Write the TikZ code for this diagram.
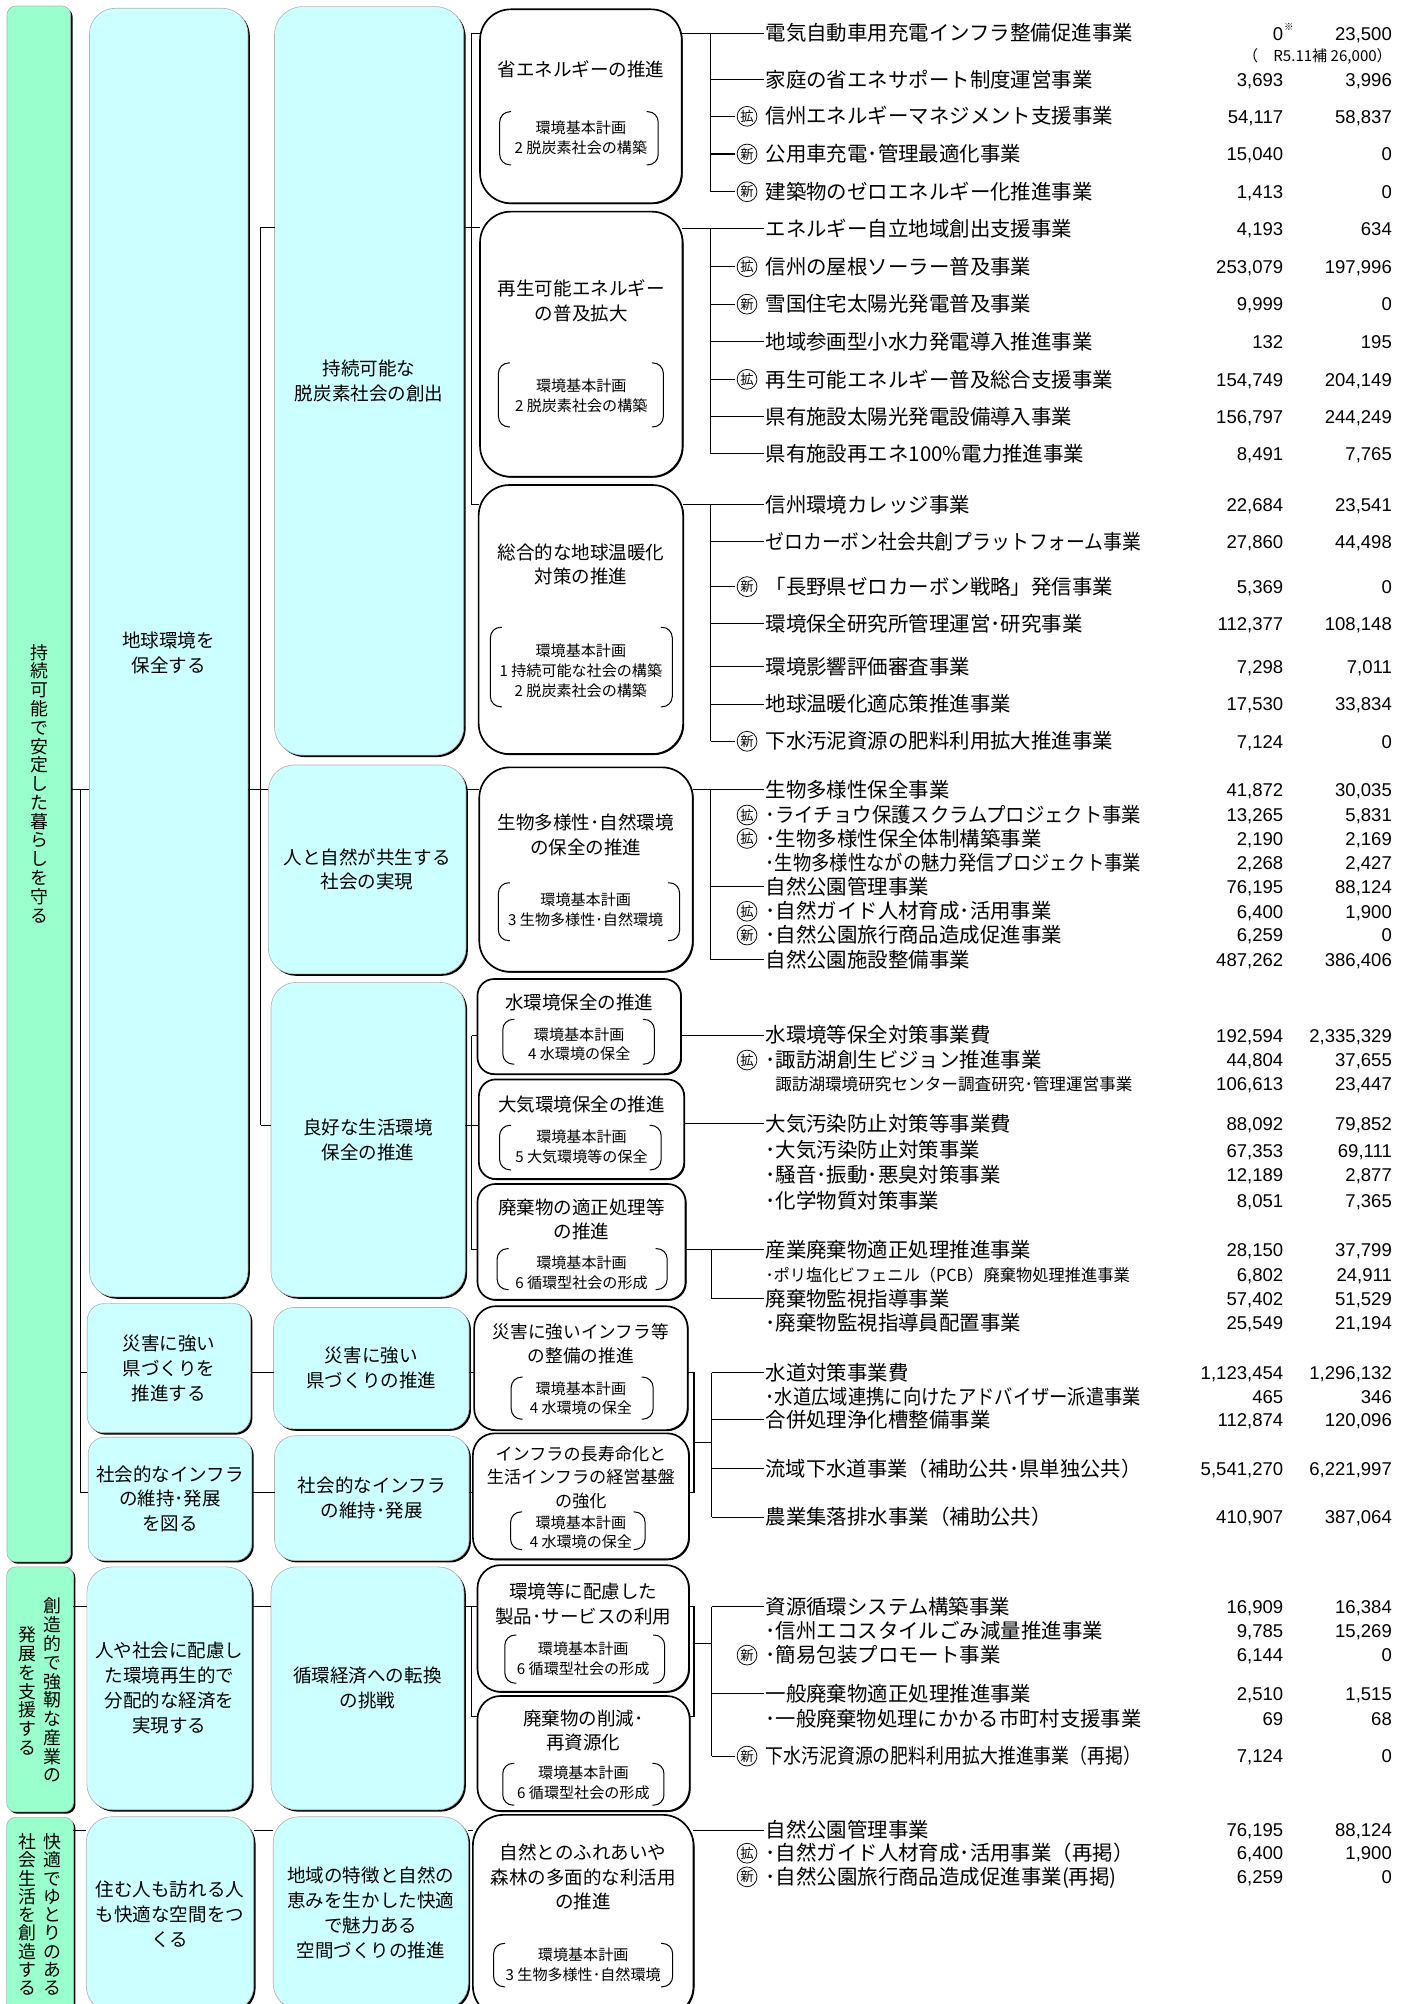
\documentclass[tikz,border=0pt]{standalone}
\usepackage{fontspec}
\usepackage{graphicx}
\setmainfont{Noto Sans CJK JP}
\newfontfamily\numfont{Liberation Sans}
\usetikzlibrary{shadows}
\definecolor{cyanf}{HTML}{CCFFFF}
\definecolor{greenf}{HTML}{99FFCC}
\newsavebox\fitbox
\newcommand\fitw[2]{\sbox\fitbox{#2}\ifdim\wd\fitbox>#1pt\relax\resizebox{#1pt}{\height}{#2}\else\usebox\fitbox\fi}
\newcommand\bx[8]{\node[#2, rounded corners=#7, minimum width={(#5)-(#3)}, minimum height={(#6)-(#4)}, anchor=north west] (#1) at (#3,#4) {#8};}
\newcommand\itm[5]{%
 \node[itemtxt,anchor=base west] (#1) at (599,#2+6) {\fitw{294}{#3}};
 \node[numtxt,anchor=base east] (#1n) at (1004,#2+5.3) {#4};
 \node[numtxt,anchor=base east] (#1m) at (1089,#2+5.3) {#5};}
\newcommand\itms[6]{%
 \node[itemsm,anchor=base west] (#1) at (#3,#2+5) {\fitw{285}{#4}};
 \node[numtxt,anchor=base east] (#1n) at (1004,#2+5.3) {#5};
 \node[numtxt,anchor=base east] (#1m) at (1089,#2+5.3) {#6};}
\newcommand\tg[3]{\node[tagc] (#1) at (584.5,#2) {#3};}
\newcommand\lnk[4]{\coordinate (#1) at (#2,#3); \draw[conni] (#1) -- (#1 -| #4.west);}
\newcommand\brk[4]{%
 \draw[brkst] (#1+9,#2) -- (#1,#2) -- (#1,#4) -- (#1+9,#4);
 \draw[brkst] (#3-9,#2) -- (#3,#2) -- (#3,#4) -- (#3-9,#4);}
\begin{document}
\begin{tikzpicture}[x=1pt,y=-1pt,
 every node/.style={inner sep=0pt, outer sep=0pt},
 itemtxt/.style={font=\fontsize{16}{19}\selectfont},
 itemsm/.style={font=\fontsize{13}{15}\selectfont},
 numtxt/.style={font=\numfont\fontsize{14.5}{17}\selectfont},
 tagc/.style={circle, draw, line width=0.6pt, minimum size=15.5pt, font=\fontsize{10.5}{10.5}\selectfont},
 cbox/.style={draw=gray!60, line width=0.5pt, fill=cyanf, drop shadow={shadow xshift=1.5pt, shadow yshift=-1.5pt, opacity=1, fill=black}, align=center, font=\fontsize{14.5}{19.5}\selectfont},
 gbox/.style={draw=gray!60, line width=0.5pt, fill=greenf, drop shadow={shadow xshift=1.5pt, shadow yshift=-1.5pt, opacity=1, fill=black}},
 wbox/.style={draw=black, line width=1.3pt, fill=white, drop shadow={shadow xshift=0.8pt, shadow yshift=-0.8pt, opacity=1, fill=black}},
 wl/.style={align=center, font=\fontsize{14.5}{19}\selectfont},
 wls/.style={align=center, font=\fontsize{11.8}{15.5}\selectfont},
 vt/.style={align=center, font=\fontsize{14}{14.7}\selectfont},
 conn/.style={line width=0.8pt},
 conni/.style={line width=0.8pt, shorten >=1.5pt},
 brkst/.style={line width=0.8pt, rounded corners=8pt}]
\useasboundingbox (0,0) rectangle (1104,1568);
\clip (0,0) rectangle (1104,1568);

% ---------- green column ----------
\bx{gA}{gbox}{5.5}{4.7}{55.3}{1222}{7}{}
\bx{gB}{gbox}{5.2}{1226}{57.5}{1417.6}{7}{}
\bx{gC}{gbox}{5.2}{1422}{57.5}{1576}{7}{}
\node[vt] (vA) at (30.5,613) {持\\続\\可\\能\\で\\安\\定\\し\\た\\暮\\ら\\し\\を\\守\\る};
\node[vt] (vB1) at (41,1322.5) {創\\造\\的\\で\\強\\靭\\な\\産\\業\\の};
\node[vt] (vB2) at (21.5,1323) {発\\展\\を\\支\\援\\す\\る};
\node[vt, font=\fontsize{14}{14.3}\selectfont] (vC1) at (41,1498) {快\\適\\で\\ゆ\\と\\り\\の\\あ\\る};
\node[vt, font=\fontsize{14}{14.3}\selectfont] (vC2) at (21.5,1498) {社\\会\\生\\活\\を\\創\\造\\す\\る};

% ---------- cyan column 2 ----------
\bx{c2a}{cbox}{70}{6.5}{194}{1014.7}{20}{地球環境を\\保全する}
\bx{c2b}{cbox}{68.3}{1020}{196}{1121}{13}{災害に強い\\県づくりを\\推進する}
\bx{c2c}{cbox}{69}{1124.5}{197}{1221}{13}{社会的なインフラ\\の維持･発展\\を図る}
\bx{c2d}{cbox}{68}{1226}{197}{1416}{20}{人や社会に配慮し\\た環境再生的で\\分配的な経済を\\実現する}
\bx{c2e}{cbox}{67.5}{1421.5}{198.5}{1574}{20}{住む人も訪れる人\\も快適な空間をつ\\くる}

% ---------- cyan column 3 ----------
\bx{c3a}{cbox}{214.8}{5.2}{362.8}{590.8}{22}{持続可能な\\脱炭素社会の創出}
\bx{c3b}{cbox}{210}{598.6}{364.6}{762}{20}{人と自然が共生する\\社会の実現}
\bx{c3c}{cbox}{212}{768.6}{364}{1014.7}{20}{良好な生活環境\\保全の推進}
\bx{c3d}{cbox}{214}{1023}{367}{1118}{16}{災害に強い\\県づくりの推進}
\bx{c3e}{cbox}{214.8}{1123.4}{367}{1221}{16}{社会的なインフラ\\の維持･発展}
\bx{c3f}{cbox}{212}{1226}{363}{1416}{20}{循環経済への転換\\の挑戦}
\bx{c3g}{cbox}{213.8}{1421.5}{366.4}{1572}{20}{地域の特徴と自然の\\恵みを生かした快適\\で魅力ある\\空間づくりの推進}

% ---------- white column 4 ----------
\bx{w1}{wbox}{375.6}{7.3}{533.4}{159}{24}{}
\bx{w2}{wbox}{375.6}{165.6}{534}{373}{24}{}
\bx{w3}{wbox}{374.5}{379.5}{534.5}{590}{24}{}
\bx{w4}{wbox}{375}{600.4}{542}{760.3}{24}{}
\bx{w5}{wbox}{373.6}{766}{532.8}{840.4}{13}{}
\bx{w6}{wbox}{374.7}{844.6}{535.3}{922.5}{13}{}
\bx{w7}{wbox}{373.6}{926.4}{536.4}{1017}{14}{}
\bx{w8}{wbox}{371}{1022}{538}{1119}{17}{}
\bx{w9}{wbox}{370}{1121.5}{539}{1220}{17}{}
\bx{w10}{wbox}{373.6}{1224.6}{539}{1323.7}{18}{}
\bx{w11}{wbox}{373.6}{1327}{539.6}{1417}{18}{}
\bx{w12}{wbox}{370}{1420}{542.6}{1578}{24}{}

\node[wl] (w1t) at (454.5,54) {省エネルギーの推進};
\node[wls] (w1s) at (454.5,108) {環境基本計画\\2 脱炭素社会の構築};
\brk{391}{87.4}{515}{129}
\node[wl] (w2t) at (454.8,235.5) {再生可能エネルギー\\の普及拡大};
\node[wls] (w2s) at (454.8,309.5) {環境基本計画\\2 脱炭素社会の構築};
\brk{390}{284}{519}{334}
\node[wl] (w3t) at (454.5,441.4) {総合的な地球温暖化\\対策の推進};
\node[wls] (w3s) at (454.5,524.7) {環境基本計画\\1 持続可能な社会の構築\\2 脱炭素社会の構築};
\brk{383.7}{490.8}{526}{553}
\node[wl] (w4t) at (458.3,653.3) {生物多様性･自然環境\\の保全の推進};
\node[wls] (w4s) at (458.3,711.8) {環境基本計画\\3 生物多様性･自然環境};
\brk{390}{690.7}{531.7}{736}
\node[wl] (w5t) at (453.2,784.7) {水環境保全の推進};
\node[wls] (w5s) at (453.2,817) {環境基本計画\\4 水環境の保全};
\brk{393.4}{797.6}{512}{832.6}
\node[wl] (w6t) at (455,864.4) {大気環境保全の推進};
\node[wls] (w6s) at (455,897.6) {環境基本計画\\5 大気環境等の保全};
\brk{390.9}{880.5}{517.3}{915.3}
\node[wl] (w7t) at (455,954) {廃棄物の適正処理等\\の推進};
\node[wls] (w7s) at (455,995.7) {環境基本計画\\6 循環型社会の形成};
\brk{389}{977}{522}{1009}
\node[wl, font=\fontsize{13.8}{18.7}\selectfont] (w8t) at (454.5,1051.7) {災害に強いインフラ等\\の整備の推進};
\node[wls] (w8s) at (454.5,1094) {環境基本計画\\4 水環境の保全};
\brk{400}{1077.5}{511}{1110.4}
\node[wl, font=\fontsize{13.4}{18.4}\selectfont] (w9t) at (454.5,1155.8) {インフラの長寿命化と\\生活インフラの経営基盤\\の強化};
\node[wls] (w9s) at (454.5,1198.9) {環境基本計画\\4 水環境の保全};
\brk{399.5}{1183}{504.7}{1212.4}
\node[wl] (w10t) at (456.3,1255) {環境等に配慮した\\製品･サービスの利用};
\node[wls] (w10s) at (456.3,1297.6) {環境基本計画\\6 循環型社会の形成};
\brk{395}{1279.3}{520}{1317}
\node[wl] (w11t) at (456.5,1353.7) {廃棄物の削減･\\再資源化};
\node[wls] (w11s) at (456.5,1395.2) {環境基本計画\\6 循環型社会の形成};
\brk{393.4}{1379.7}{519.5}{1412.4}
\node[wl] (w12t) at (456.3,1468.7) {自然とのふれあいや\\森林の多面的な利活用\\の推進};
\node[wls] (w12s) at (456.3,1537.3) {環境基本計画\\3 生物多様性･自然環境};
\brk{386.2}{1520.6}{526.3}{1554.5}

% ---------- tree connectors (left part) ----------
\coordinate (jA1) at (63,618); \coordinate (jA2) at (63,1074); \coordinate (jA3) at (63,1168);
\draw[conn] (gA.east |- jA1) -- (c2a.west |- jA1);
\draw[conn] (jA1) -- (jA3);
\draw[conn] (jA2) -- (c2b.west |- jA2);
\draw[conn] (jA3) -- (c2c.west |- jA3);
\coordinate (jB1) at (204,178); \coordinate (jB2) at (204,618); \coordinate (jB3) at (204,880.5);
\draw[conn] (jB1) -- (jB3);
\draw[conn] (jB1) -- (c3a.west |- jB1);
\draw[conn] (c2a.east |- jB2) -- (c3b.west |- jB2);
\draw[conn] (jB3) -- (c3c.west |- jB3);
\draw[conn] (c2b.east |- jA2) -- (c3d.west |- jA2);
\draw[conn] (c2c.east |- jA3) -- (c3e.west |- jA3);
\coordinate (jC1) at (369,26); \coordinate (jC2) at (369,178); \coordinate (jC3) at (369,395);
\draw[conn] (jC1) -- (jC3);
\draw[conn] (jC1) -- (w1.west |- jC1);
\draw[conn] (c3a.east |- jC2) -- (w2.west |- jC2);
\draw[conn] (jC3) -- (w3.west |- jC3);
\draw[conn] (c3b.east |- jB2) -- (w4.west |- jB2);
\coordinate (jD1) at (369,810.5); \coordinate (jD2) at (369,880.5); \coordinate (jD3) at (369,978);
\draw[conn] (jD1) -- (jD3);
\draw[conn] (jD1) -- (w5.west |- jD1);
\draw[conn] (c3c.east |- jD2) -- (w6.west |- jD2);
\draw[conn] (jD3) -- (w7.west |- jD3);
\draw[conn] (c3d.east |- jA2) -- (w8.west |- jA2);
\draw[conn] (c3e.east |- jA3) -- (w9.west |- jA3);
\coordinate (jE1) at (543,1074); \coordinate (jE2) at (543,1168); \coordinate (jE3) at (543,1129); \coordinate (jE4) at (557,1129);
\draw[conn] (w8.east |- jE1) -- (jE1) -- (jE2) -- (w9.east |- jE2);
\draw[conn] (jE3) -- (jE4);
\coordinate (jF1) at (369,1257); \coordinate (jF2) at (369,1343);
\draw[conn] (gB.east |- jF1) -- (c2d.west |- jF1);
\draw[conn] (c2d.east |- jF1) -- (c3f.west |- jF1);
\draw[conn] (c3f.east |- jF1) -- (w10.west |- jF1);
\draw[conn] (jF1) -- (jF2) -- (w11.west |- jF2);
\coordinate (jG1) at (543,1257); \coordinate (jG2) at (543,1343); \coordinate (jG3) at (543,1286); \coordinate (jG4) at (557,1286);
\draw[conn] (w10.east |- jG1) -- (jG1) -- (jG2) -- (w11.east |- jG2);
\draw[conn] (jG3) -- (jG4);
\coordinate (jH) at (560,1432);
\draw[conn] (gC.east |- jH) -- (c2e.west |- jH);
\draw[conn] (c2e.east |- jH) -- (c3g.west |- jH);
\draw[conn] (c3g.east |- jH) -- (w12.west |- jH);

% ---------- items: group 1 ----------
\itm{r1a}{26}{電気自動車用充電インフラ整備促進事業}{0}{23,500}
\node[font=\fontsize{7.5}{7.5}\selectfont, anchor=west] (r1ax) at (1004.8,21) {※};
\node[font=\fontsize{11.8}{11.8}\selectfont, anchor=base east] (r1ay) at (1089,48.3) {（　R5.11補 26,000）};
\itm{r1b}{62.5}{家庭の省エネサポート制度運営事業}{3,693}{3,996}
\tg{t1c}{91}{拡}\itm{r1c}{91}{信州エネルギーマネジメント支援事業}{54,117}{58,837}
\tg{t1d}{120.5}{新}\itm{r1d}{120.5}{公用車充電･管理最適化事業}{15,040}{0}
\tg{t1e}{150}{新}\itm{r1e}{150}{建築物のゼロエネルギー化推進事業}{1,413}{0}
\coordinate (k1a) at (556,26); \coordinate (k1e) at (556,150);
\draw[conni] (w1.east |- k1a) -- (k1a -| r1a.west);
\draw[conn] (k1a) -- (k1e);
\lnk{k1b}{556}{62.5}{r1b}
\lnk{k1c}{556}{91}{t1c}
\lnk{k1d}{556}{120.5}{t1d}
\draw[conni] (k1e) -- (k1e -| t1e.west);

% group 2
\itm{r2a}{179}{エネルギー自立地域創出支援事業}{4,193}{634}
\tg{t2b}{208.7}{拡}\itm{r2b}{208.7}{信州の屋根ソーラー普及事業}{253,079}{197,996}
\tg{t2c}{238}{新}\itm{r2c}{238}{雪国住宅太陽光発電普及事業}{9,999}{0}
\itm{r2d}{267.3}{地域参画型小水力発電導入推進事業}{132}{195}
\tg{t2e}{296.8}{拡}\itm{r2e}{296.8}{再生可能エネルギー普及総合支援事業}{154,749}{204,149}
\itm{r2f}{326}{県有施設太陽光発電設備導入事業}{156,797}{244,249}
\itm{r2g}{355.2}{県有施設再エネ100\%電力推進事業}{8,491}{7,765}
\coordinate (k2a) at (556,179); \coordinate (k2g) at (556,355.2);
\draw[conni] (w2.east |- k2a) -- (k2a -| r2a.west);
\draw[conn] (k2a) -- (k2g);
\lnk{k2b}{556}{208.7}{t2b}
\lnk{k2c}{556}{238}{t2c}
\lnk{k2d}{556}{267.3}{r2d}
\lnk{k2e}{556}{296.8}{t2e}
\lnk{k2f}{556}{326}{r2f}
\draw[conni] (k2g) -- (k2g -| r2g.west);

% group 3
\itm{r3a}{395}{信州環境カレッジ事業}{22,684}{23,541}
\itm{r3b}{424}{ゼロカーボン社会共創プラットフォーム事業}{27,860}{44,498}
\tg{t3c}{459}{新}\itm{r3c}{459}{「長野県ゼロカーボン戦略」発信事業}{5,369}{0}
\itm{r3d}{488}{環境保全研究所管理運営･研究事業}{112,377}{108,148}
\itm{r3e}{521.6}{環境影響評価審査事業}{7,298}{7,011}
\itm{r3f}{551}{地球温暖化適応策推進事業}{17,530}{33,834}
\tg{t3g}{580}{新}\itm{r3g}{580}{下水汚泥資源の肥料利用拡大推進事業}{7,124}{0}
\coordinate (k3a) at (556,395); \coordinate (k3g) at (556,580);
\draw[conni] (w3.east |- k3a) -- (k3a -| r3a.west);
\draw[conn] (k3a) -- (k3g);
\lnk{k3b}{556}{424}{r3b}
\lnk{k3c}{556}{459}{t3c}
\lnk{k3d}{556}{488}{r3d}
\lnk{k3e}{556}{521.6}{r3e}
\lnk{k3f}{556}{551}{r3f}
\draw[conni] (k3g) -- (k3g -| t3g.west);

% group 4
\itm{r4a}{618}{生物多様性保全事業}{41,872}{30,035}
\tg{t4b}{637.7}{拡}\itm{r4b}{637.7}{･ライチョウ保護スクラムプロジェクト事業}{13,265}{5,831}
\tg{t4c}{656}{拡}\itm{r4c}{656}{･生物多様性保全体制構築事業}{2,190}{2,169}
\itm{r4d}{675}{･生物多様性ながの魅力発信プロジェクト事業}{2,268}{2,427}
\itm{r4e}{694}{自然公園管理事業}{76,195}{88,124}
\tg{t4f}{713}{拡}\itm{r4f}{713}{･自然ガイド人材育成･活用事業}{6,400}{1,900}
\tg{t4g}{731.6}{新}\itm{r4g}{731.6}{･自然公園旅行商品造成促進事業}{6,259}{0}
\itm{r4h}{751}{自然公園施設整備事業}{487,262}{386,406}
\coordinate (k4a) at (556,618); \coordinate (k4h) at (556,751);
\draw[conni] (w4.east |- k4a) -- (k4a -| r4a.west);
\draw[conn] (k4a) -- (k4h);
\lnk{k4e}{556}{694}{r4e}
\draw[conni] (k4h) -- (k4h -| r4h.west);

% water
\itm{r5a}{810}{水環境等保全対策事業費}{192,594}{2,335,329}
\tg{t5b}{829.4}{拡}\itm{r5b}{829.4}{･諏訪湖創生ビジョン推進事業}{44,804}{37,655}
\itms{r5c}{848}{606.6}{諏訪湖環境研究センター調査研究･管理運営事業}{106,613}{23,447}
\coordinate (k5a) at (560,810);
\draw[conni] (w5.east |- k5a) -- (k5a -| r5a.west);

% air
\itm{r6a}{879}{大気汚染防止対策等事業費}{88,092}{79,852}
\itm{r6b}{900}{･大気汚染防止対策事業}{67,353}{69,111}
\itm{r6c}{919.5}{･騒音･振動･悪臭対策事業}{12,189}{2,877}
\itm{r6d}{939.5}{･化学物質対策事業}{8,051}{7,365}
\coordinate (k6a) at (560,879);
\draw[conni] (w6.east |- k6a) -- (k6a -| r6a.west);

% waste
\itm{r7a}{977.6}{産業廃棄物適正処理推進事業}{28,150}{37,799}
\itms{r7b}{997.6}{599}{･ポリ塩化ビフェニル（PCB）廃棄物処理推進事業}{6,802}{24,911}
\itm{r7c}{1016}{廃棄物監視指導事業}{57,402}{51,529}
\itm{r7d}{1035}{･廃棄物監視指導員配置事業}{25,549}{21,194}
\coordinate (k7a) at (557,977.6); \coordinate (k7c) at (557,1016);
\draw[conni] (w7.east |- k7a) -- (k7a -| r7a.west);
\draw[conn] (k7a) -- (k7c);
\draw[conni] (k7c) -- (k7c -| r7c.west);

% infra
\itm{r8a}{1074}{水道対策事業費}{1,123,454}{1,296,132}
\itm{r8b}{1093}{･水道広域連携に向けたアドバイザー派遣事業}{465}{346}
\itm{r8c}{1111}{合併処理浄化槽整備事業}{112,874}{120,096}
\itm{r8d}{1149}{流域下水道事業（補助公共･県単独公共）}{5,541,270}{6,221,997}
\itm{r8e}{1187}{農業集落排水事業（補助公共）}{410,907}{387,064}
\coordinate (k8a) at (557,1074); \coordinate (k8e) at (557,1187);
\draw[conn] (k8a) -- (k8e);
\draw[conni] (k8a) -- (k8a -| r8a.west);
\lnk{k8c}{557}{1111}{r8c}
\lnk{k8d}{557}{1149}{r8d}
\draw[conni] (k8e) -- (k8e -| r8e.west);

% circular economy
\itm{r9a}{1257}{資源循環システム構築事業}{16,909}{16,384}
\itm{r9b}{1276}{･信州エコスタイルごみ減量推進事業}{9,785}{15,269}
\tg{t9c}{1295}{新}\itm{r9c}{1295}{･簡易包装プロモート事業}{6,144}{0}
\itm{r9d}{1325}{一般廃棄物適正処理推進事業}{2,510}{1,515}
\itm{r9e}{1344.6}{･一般廃棄物処理にかかる市町村支援事業}{69}{68}
\tg{t9f}{1374}{新}\itm{r9f}{1374}{下水汚泥資源の肥料利用拡大推進事業（再掲）}{7,124}{0}
\coordinate (k9a) at (557,1257); \coordinate (k9f) at (557,1374);
\draw[conn] (k9a) -- (k9f);
\draw[conni] (k9a) -- (k9a -| r9a.west);
\lnk{k9d}{557}{1325}{r9d}
\draw[conni] (k9f) -- (k9f -| t9f.west);

% nature
\itm{r10a}{1432}{自然公園管理事業}{76,195}{88,124}
\tg{t10b}{1450}{拡}\itm{r10b}{1450}{･自然ガイド人材育成･活用事業（再掲）}{6,400}{1,900}
\tg{t10c}{1468.5}{新}\itm{r10c}{1468.5}{･自然公園旅行商品造成促進事業(再掲)}{6,259}{0}
\draw[conni] (w12.east |- jH) -- (jH -| r10a.west);
\end{tikzpicture}
\end{document}
